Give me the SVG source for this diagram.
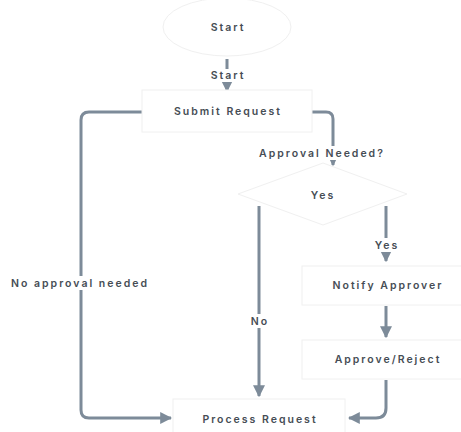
<svg xmlns="http://www.w3.org/2000/svg" width="461" height="432" viewBox="0 0 461 432">
<defs>
<style>
.node{fill:#ffffff;stroke:#f0f0f0;stroke-width:1}
.t{font-family:Inter,"Liberation Sans",sans-serif;font-size:10.5px;font-weight:600;fill:#464d55;text-anchor:middle;dominant-baseline:central;letter-spacing:2px}
.e{fill:none;stroke:#7d8b99;stroke-width:3}
.lbg{fill:#ffffff}
</style>
<marker id="ah" viewBox="0 0 10 10" refX="9" refY="5" markerWidth="4" markerHeight="4" markerUnits="strokeWidth" orient="auto">
<path d="M0,0 L10,5 L0,10 z" fill="#7d8b99"/>
</marker>
</defs>
<rect width="461" height="432" fill="#ffffff"/>
<g id="connectors">
<path class="e" d="M227,59 V91" marker-end="url(#ah)"/>
<path class="e" d="M142,112 H89 Q81,112 81,120 V410 Q81,418 89,418 H171" marker-end="url(#ah)"/>
<path class="e" d="M312,112 H326 Q333,112 333,119 V165" marker-end="url(#ah)"/>
<path class="e" d="M259,206 V396" marker-end="url(#ah)"/>
<path class="e" d="M386,206 V261" marker-end="url(#ah)"/>
<path class="e" d="M386,306 V337" marker-end="url(#ah)"/>
<path class="e" d="M386,380 V408 Q386,418 376,418 H349" marker-end="url(#ah)"/>
<rect class="lbg" x="206" y="69" width="42" height="13"/>
<text class="t" x="228" y="75.5">Start</text>
<rect class="lbg" x="268" y="146" width="108" height="14"/>
<text class="t" x="322" y="153">Approval Needed?</text>
<rect class="lbg" x="8" y="276" width="143" height="14"/>
<text class="t" x="80" y="283">No approval needed</text>
<rect class="lbg" x="246" y="314" width="26" height="14"/>
<text class="t" x="260" y="321">No</text>
<rect class="lbg" x="370" y="238" width="32" height="14"/>
<text class="t" x="387" y="245">Yes</text>
</g>
<g id="start">
<ellipse class="node" cx="227" cy="27" rx="64" ry="29"/>
<text class="t" x="228" y="27">Start</text>
</g>
<g id="submit">
<rect class="node" x="142" y="90" width="170" height="42"/>
<text class="t" x="228" y="111">Submit Request</text>
</g>
<g id="decision">
<polygon class="node" points="323,163 407,194 323,225 238,194"/>
<text class="t" x="323" y="195">Yes</text>
</g>
<g id="notify">
<rect class="node" x="302" y="266" width="170" height="39"/>
<text class="t" x="388" y="285">Notify Approver</text>
</g>
<g id="approve">
<rect class="node" x="302" y="340" width="170" height="39"/>
<text class="t" x="388" y="359">Approve/Reject</text>
</g>
<g id="process">
<rect class="node" x="173" y="399" width="172" height="42"/>
<text class="t" x="260" y="419">Process Request</text>
</g>
</svg>
